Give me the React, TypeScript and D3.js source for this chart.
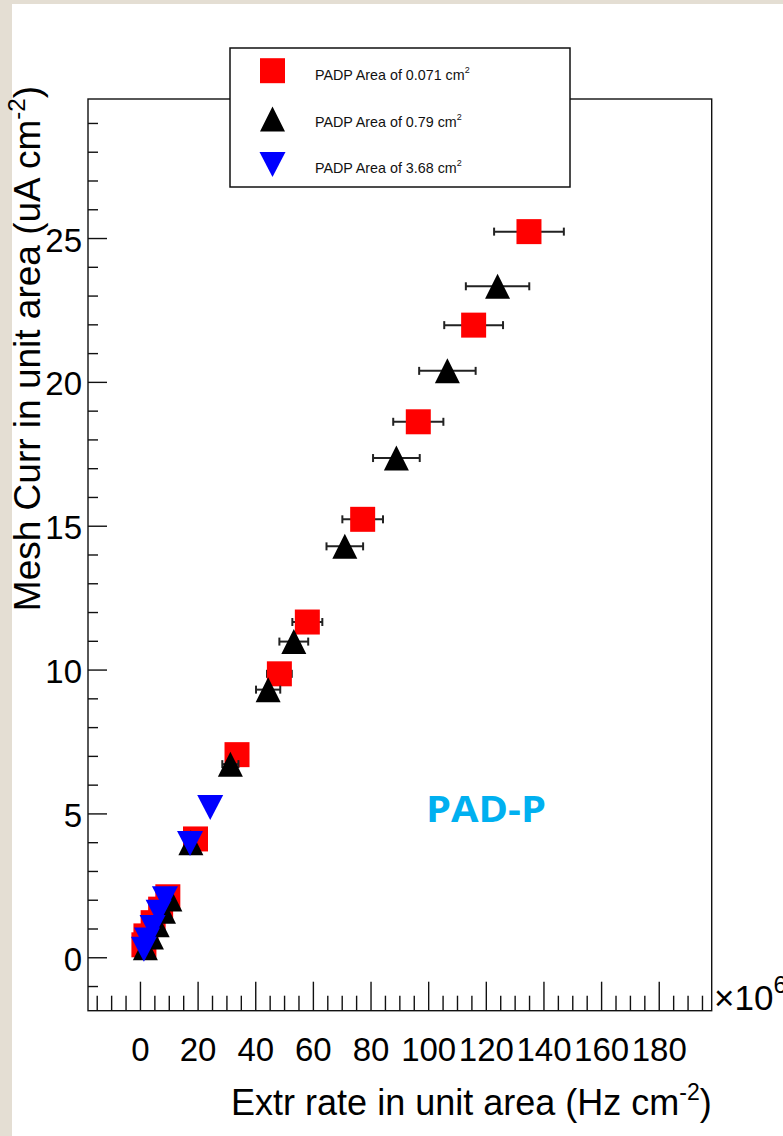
import React from "react";
import * as d3 from "d3";

// PADP area 0.071 cm^2 (red squares)
const redX = [134.8, 115.6, 96.4, 77.1, 57.9, 48.2, 33.5, 19.1, 9.5, 7.0, 4.4, 1.9, 1.2];
const redY = [25.24, 21.99, 18.63, 15.24, 11.67, 9.87, 7.06, 4.13, 2.12, 1.69, 1.22, 0.76, 0.45];
const redXErr = [12.1, 10.2, 8.7, 7.05, 5.2, 4.3, 3.0, 1.7, 0.85, 0.65, 0.45, 0.27, 0.13];

// PADP area 0.79 cm^2 (black triangles)
const blackX = [123.9, 106.5, 88.8, 70.9, 53.2, 44.3, 31.2, 17.5, 10.2, 8.0, 5.8, 3.8, 1.7];
const blackY = [23.34, 20.4, 17.37, 14.3, 10.99, 9.32, 6.73, 4.0, 2.04, 1.62, 1.15, 0.72, 0.35];
const blackXErr = [11.0, 9.8, 8.1, 6.35, 5.0, 4.2, 2.8, 1.6, 0.9, 0.72, 0.52, 0.34, 0.15];

// PADP area 3.68 cm^2 (blue inverted triangles)
const blueX = [24.2, 17.2, 8.5, 6.3, 4.2, 2.3, 1.2];
const blueY = [5.22, 3.97, 2.05, 1.58, 1.05, 0.62, 0.3];
const blueXErr = [0, 0, 0, 0, 0, 0, 0];

const legendLabels = ["PADP Area of 0.071 cm", "PADP Area of 0.79 cm", "PADP Area of 3.68 cm"];
const xTickValues = [0, 20, 40, 60, 80, 100, 120, 140, 160, 180];
const yTickValues = [0, 5, 10, 15, 20, 25];

const W = 783;
const H = 1136;
const frame = { left: 88, top: 99, right: 711.7, bottom: 1010.7 };
const FONT = "'Liberation Sans', Arial, sans-serif";

type Pt = { x: number; y: number; ex: number };
const zipSeries = (xs: number[], ys: number[], es: number[]): Pt[] =>
  xs.map((x, i) => ({ x, y: ys[i], ex: es[i] }));

const series = [
  { key: "red", color: "#ff0000", shape: "square", pts: zipSeries(redX, redY, redXErr) },
  { key: "black", color: "#000000", shape: "up", pts: zipSeries(blackX, blackY, blackXErr) },
  { key: "blue", color: "#0000ff", shape: "down", pts: zipSeries(blueX, blueY, blueXErr) },
];

function markerPath(shape: string, cx: number, cy: number): string {
  const h = 12.5;
  if (shape === "square") return `M${cx - h},${cy - h}h${2 * h}v${2 * h}h${-2 * h}Z`;
  if (shape === "up") return `M${cx},${cy - h}L${cx + h},${cy + h}L${cx - h},${cy + h}Z`;
  return `M${cx - 13},${cy - h}L${cx + 13},${cy - h}L${cx},${cy + h}Z`;
}

export default function App() {
  const xs = d3.scaleLinear().domain([-18.2, 198.2]).range([frame.left, frame.right]);
  const ys = d3.scaleLinear().domain([-1.84, 29.85]).range([frame.bottom, frame.top]);

  const xMinor = d3.range(-15, 200, 5).filter((v) => v % 20 !== 0);
  const yMinor = d3.range(-1, 30, 1).filter((v) => v % 5 !== 0);

  return (
    <svg
      width={W}
      height={H}
      style={{ position: "absolute", left: 0, top: 0, display: "block" }}
      fontFamily={FONT}
    >
      <rect x={0} y={0} width={W} height={H} fill="#e4ded3" />
      <rect x={12} y={4} width={W - 12} height={H - 4} fill="#ffffff" />

      {/* frame */}
      <rect
        x={frame.left}
        y={frame.top}
        width={frame.right - frame.left}
        height={frame.bottom - frame.top}
        fill="none"
        stroke="#111"
        strokeWidth={1.4}
      />

      {/* x axis ticks */}
      {xTickValues.map((v) => (
        <line key={`xM${v}`} x1={xs(v)} x2={xs(v)} y1={frame.bottom} y2={frame.bottom - 29} stroke="#111" strokeWidth={1.4} />
      ))}
      {xMinor.map((v) => (
        <line key={`xm${v}`} x1={xs(v)} x2={xs(v)} y1={frame.bottom} y2={frame.bottom - 15} stroke="#111" strokeWidth={1.4} />
      ))}
      {xTickValues.map((v) => (
        <text key={`xl${v}`} x={xs(v)} y={1061} textAnchor="middle" fontSize={33} fill="#000">
          {v}
        </text>
      ))}
      <text x={714} y={1010} fontSize={35} fill="#000">
        ×10
        <tspan dy={-17} fontSize={24}>6</tspan>
      </text>
      <text x={frame.right} y={1115} textAnchor="end" fontSize={36} fill="#000">
        Extr rate in unit area (Hz cm
        <tspan dy={-15} fontSize={23}>-2</tspan>
        <tspan dy={15}>)</tspan>
      </text>

      {/* y axis ticks */}
      {yTickValues.map((v) => (
        <line key={`yM${v}`} x1={frame.left} x2={frame.left + 19} y1={ys(v)} y2={ys(v)} stroke="#111" strokeWidth={1.4} />
      ))}
      {yMinor.map((v) => (
        <line key={`ym${v}`} x1={frame.left} x2={frame.left + 10} y1={ys(v)} y2={ys(v)} stroke="#111" strokeWidth={1.4} />
      ))}
      {yTickValues.map((v) => (
        <text key={`yl${v}`} x={82} y={ys(v) + 13} textAnchor="end" fontSize={33} fill="#000">
          {v}
        </text>
      ))}
      <text transform="translate(40,86) rotate(-90)" textAnchor="end" fontSize={37} fill="#000">
        Mesh Curr in unit area (uA cm
        <tspan dy={-15} fontSize={24}>-2</tspan>
        <tspan dy={15}>)</tspan>
      </text>

      {/* data */}
      {series.map((s) => (
        <g key={s.key}>
          {s.pts
            .filter((p) => p.ex > 0)
            .map((p, i) => {
              const cy = ys(p.y);
              const x0 = xs(p.x - p.ex);
              const x1 = xs(p.x + p.ex);
              return (
                <g key={`e${i}`} stroke="#222" strokeWidth={2}>
                  <line x1={x0} x2={x1} y1={cy} y2={cy} />
                  <line x1={x0} x2={x0} y1={cy - 4} y2={cy + 4} />
                  <line x1={x1} x2={x1} y1={cy - 4} y2={cy + 4} />
                </g>
              );
            })}
          {s.pts.map((p, i) => (
            <path key={`m${i}`} d={markerPath(s.shape, xs(p.x), ys(p.y))} fill={s.color} />
          ))}
        </g>
      ))}

      {/* legend */}
      <rect x={230} y={48} width={340} height={139} fill="#fff" stroke="#111" strokeWidth={1.5} />
      {series.map((s, i) => {
        const cy = [70.7, 119, 164.5][i];
        const by = [79.5, 127, 173][i];
        return (
          <g key={`lg${s.key}`}>
            <path d={markerPath(s.shape, 272.5, cy)} fill={s.color} />
            <text x={315} y={by} fontSize={14.3} fill="#111">
              {legendLabels[i]}
              <tspan dy={-7} fontSize={9}>2</tspan>
            </text>
          </g>
        );
      })}

      <text
        x={426}
        y={821.7}
        fontSize={36}
        fontWeight={700}
        fill="#00b0f0"
        fontFamily="'Open Sans', sans-serif"
        textLength={120}
        lengthAdjust="spacingAndGlyphs"
      >
        PAD-P
      </text>
    </svg>
  );
}
